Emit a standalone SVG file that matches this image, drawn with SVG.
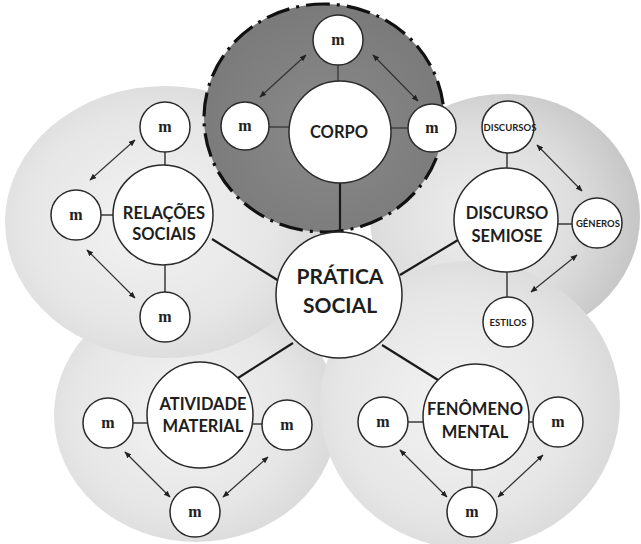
<svg xmlns="http://www.w3.org/2000/svg" width="641" height="544" viewBox="0 0 641 544">
  <style>
    .node { fill: #ffffff; stroke: #2a2a2a; stroke-width: 1.5; }
    .stub { stroke: #444444; stroke-width: 1.6; fill: none; }
    .link { stroke: #1a1a1a; stroke-width: 2.2; fill: none; }
    .arrow { stroke: #333333; stroke-width: 1.2; fill: none; marker-start: url(#head); marker-end: url(#head); }
    .big { font-family: Lato, "Open Sans", sans-serif; font-weight: bold; font-size: 16.5px; fill: #1e1e1e; text-anchor: middle; }
    .huge { font-family: Lato, "Open Sans", sans-serif; font-weight: bold; font-size: 21px; fill: #1e1e1e; text-anchor: middle; }
    .small { font-family: Lato, "Open Sans", sans-serif; font-weight: bold; font-size: 9.5px; fill: #1e1e1e; text-anchor: middle; }
    .m { font-family: "Liberation Serif", "Times New Roman", serif; font-weight: bold; font-size: 16px; fill: #222222; text-anchor: middle; }
  </style>
  <defs>
    <marker id="head" viewBox="0 0 10 10" refX="9" refY="5" markerWidth="7" markerHeight="7" orient="auto-start-reverse" markerUnits="userSpaceOnUse">
      <path d="M0,1 L10,5 L0,9 z" fill="#222222"/>
    </marker>
    <radialGradient id="light" cx="0.45" cy="0.5" r="0.55">
      <stop offset="0" stop-color="#f3f3f3"/>
      <stop offset="0.7" stop-color="#e6e6e6"/>
      <stop offset="1" stop-color="#dadada"/>
    </radialGradient>
    <radialGradient id="lightR" cx="0.4" cy="0.5" r="0.6">
      <stop offset="0" stop-color="#eeeeee"/>
      <stop offset="0.6" stop-color="#dedede"/>
      <stop offset="1" stop-color="#c6c6c6"/>
    </radialGradient>
    <radialGradient id="dark" cx="0.5" cy="0.55" r="0.55">
      <stop offset="0" stop-color="#8a8a8a"/>
      <stop offset="1" stop-color="#7a7a7a"/>
    </radialGradient>
  </defs>

  <!-- background domains -->
  <g id="domains">
    <ellipse cx="196" cy="415" rx="142" ry="127" fill="url(#light)"/>
    <ellipse cx="505" cy="217" rx="135" ry="123" fill="url(#lightR)"/>
    <ellipse cx="165" cy="222" rx="160" ry="136" fill="url(#light)"/>
    <ellipse cx="470" cy="405" rx="150" ry="144" fill="url(#light)"/>
    <ellipse cx="324" cy="118" rx="120" ry="114" fill="url(#dark)" stroke="#111111" stroke-width="3.2" stroke-dasharray="24 7 3 7"/>
  </g>

  <!-- connectors -->
  <g id="connectors">
    <!-- hub spokes -->
    <line class="link" x1="340" y1="183" x2="340" y2="231"/>
    <line class="link" x1="212" y1="239" x2="279" y2="281"/>
    <line class="link" x1="458" y1="240" x2="400" y2="275"/>
    <line class="link" x1="238" y1="378" x2="293" y2="343"/>
    <line class="link" x1="382" y1="345" x2="438" y2="380"/>
    <!-- CORPO -->
    <line class="stub" x1="338" y1="65" x2="338" y2="81"/>
    <line class="stub" x1="269" y1="127" x2="289" y2="127"/>
    <line class="stub" x1="391" y1="128" x2="408" y2="128"/>
    <line class="arrow" x1="306" y1="55" x2="260" y2="97"/>
    <line class="arrow" x1="373" y1="55" x2="418" y2="101"/>
    <!-- RELAÇÕES SOCIAIS -->
    <line class="stub" x1="165" y1="152" x2="165" y2="165"/>
    <line class="stub" x1="101" y1="215" x2="113" y2="215"/>
    <line class="stub" x1="165" y1="265" x2="165" y2="292"/>
    <line class="arrow" x1="135" y1="140" x2="90" y2="180"/>
    <line class="arrow" x1="87" y1="250" x2="135" y2="298"/>
    <!-- DISCURSO SEMIOSE -->
    <line class="stub" x1="507" y1="153" x2="507" y2="168"/>
    <line class="stub" x1="558" y1="224" x2="572" y2="224"/>
    <line class="stub" x1="507" y1="272" x2="507" y2="297"/>
    <line class="arrow" x1="537" y1="145" x2="582" y2="191"/>
    <line class="arrow" x1="577" y1="255" x2="531" y2="292"/>
    <!-- ATIVIDADE MATERIAL -->
    <line class="stub" x1="133" y1="423" x2="148" y2="423"/>
    <line class="stub" x1="252" y1="424" x2="262" y2="424"/>
    <line class="arrow" x1="125" y1="452" x2="170" y2="497"/>
    <line class="arrow" x1="268" y1="457" x2="223" y2="497"/>
    <!-- FENÔMENO MENTAL -->
    <line class="stub" x1="408" y1="422" x2="423" y2="422"/>
    <line class="stub" x1="529" y1="422" x2="533" y2="422"/>
    <line class="stub" x1="472" y1="470" x2="472" y2="487"/>
    <line class="arrow" x1="400" y1="450" x2="447" y2="497"/>
    <line class="arrow" x1="543" y1="455" x2="498" y2="497"/>
  </g>

  <!-- hub -->
  <g id="pratica-social">
    <circle class="node" cx="339" cy="295" r="63"/>
    <text class="huge" x="340" y="284">PRÁTICA</text>
    <text class="huge" x="340" y="313">SOCIAL</text>
  </g>

  <!-- CORPO cluster -->
  <g id="corpo">
    <circle class="node" cx="340" cy="132" r="51"/>
    <text class="big" x="339" y="138">CORPO</text>
  </g>
  <g id="corpo-m-top"><circle class="node" cx="338" cy="40" r="25"/><text class="m" x="338" y="45">m</text></g>
  <g id="corpo-m-left"><circle class="node" cx="245" cy="126" r="24"/><text class="m" x="245" y="131">m</text></g>
  <g id="corpo-m-right"><circle class="node" cx="432" cy="128" r="24"/><text class="m" x="432" y="133">m</text></g>

  <!-- RELAÇÕES SOCIAIS cluster -->
  <g id="relacoes-sociais">
    <circle class="node" cx="163" cy="215" r="50"/>
    <text class="big" x="164" y="219">RELAÇÕES</text>
    <text class="big" x="164" y="240">SOCIAIS</text>
  </g>
  <g id="relacoes-m-top"><circle class="node" cx="165" cy="127" r="25"/><text class="m" x="165" y="132">m</text></g>
  <g id="relacoes-m-left"><circle class="node" cx="76" cy="215" r="25"/><text class="m" x="76" y="220">m</text></g>
  <g id="relacoes-m-bottom"><circle class="node" cx="165" cy="317" r="25"/><text class="m" x="165" y="322">m</text></g>

  <!-- DISCURSO SEMIOSE cluster -->
  <g id="discurso-semiose">
    <circle class="node" cx="506" cy="220" r="52"/>
    <text class="big" x="507" y="219">DISCURSO</text>
    <text class="big" x="507" y="242">SEMIOSE</text>
  </g>
  <g id="discursos"><circle class="node" cx="508" cy="127" r="26"/><text class="small" x="510" y="131">DISCURSOS</text></g>
  <g id="generos"><circle class="node" cx="597" cy="223" r="25"/><text class="small" x="598" y="227">GÊNEROS</text></g>
  <g id="estilos"><circle class="node" cx="508" cy="322" r="25"/><text class="small" x="508" y="326">ESTILOS</text></g>

  <!-- ATIVIDADE MATERIAL cluster -->
  <g id="atividade-material">
    <circle class="node" cx="200" cy="415" r="53"/>
    <text class="big" x="203" y="410">ATIVIDADE</text>
    <text class="big" x="203" y="432">MATERIAL</text>
  </g>
  <g id="atividade-m-left"><circle class="node" cx="108" cy="423" r="25"/><text class="m" x="108" y="428">m</text></g>
  <g id="atividade-m-right"><circle class="node" cx="287" cy="425" r="25"/><text class="m" x="287" y="430">m</text></g>
  <g id="atividade-m-bottom"><circle class="node" cx="195" cy="512" r="25"/><text class="m" x="195" y="517">m</text></g>

  <!-- FENÔMENO MENTAL cluster -->
  <g id="fenomeno-mental">
    <circle class="node" cx="476" cy="417" r="53"/>
    <text class="big" x="475" y="415">FENÔMENO</text>
    <text class="big" x="475" y="438">MENTAL</text>
  </g>
  <g id="fenomeno-m-left"><circle class="node" cx="383" cy="422" r="25"/><text class="m" x="383" y="427">m</text></g>
  <g id="fenomeno-m-right"><circle class="node" cx="558" cy="422" r="25"/><text class="m" x="558" y="427">m</text></g>
  <g id="fenomeno-m-bottom"><circle class="node" cx="472" cy="512" r="25"/><text class="m" x="472" y="517">m</text></g>
</svg>
